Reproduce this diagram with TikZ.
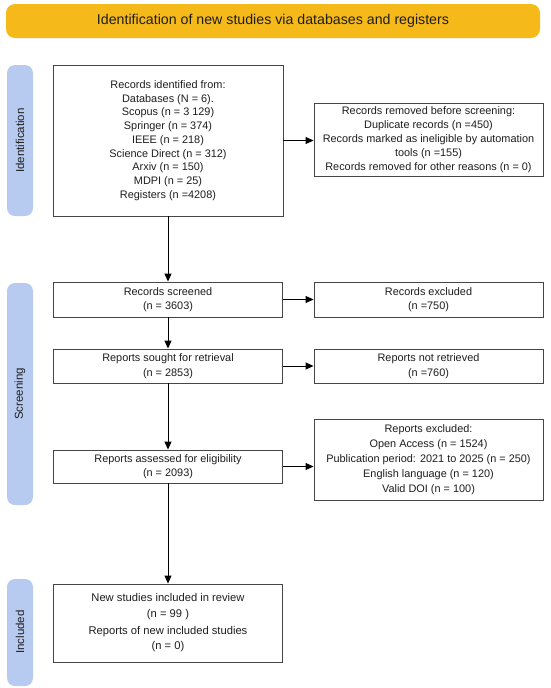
\documentclass[tikz,border=0pt]{standalone}
\usepackage{fontspec}
\setmainfont{Liberation Sans}
\usetikzlibrary{arrows.meta}
\definecolor{banner}{RGB}{246,185,26}
\definecolor{sidebar}{RGB}{183,203,240}
\definecolor{boxline}{RGB}{70,70,70}
\definecolor{txt}{RGB}{30,30,30}
\tikzset{
  box/.style={draw=boxline, line width=0.9pt, fill=white, rectangle, inner sep=0pt,
    align=center, text=txt, font=\fontsize{10.9}{14.5}\selectfont},
  sidebox/.style={fill=sidebar, rounded corners=8pt, draw=none},
  sidelabel/.style={rotate=90, text=txt, font=\fontsize{11.5}{13}\selectfont},
  flow/.style={line width=0.9pt, draw=black, -{Triangle[length=8pt,width=7pt]}}
}
\begin{document}
\begin{tikzpicture}[x=1pt,y=-1pt]
\useasboundingbox (0,0) rectangle (550,688);
% banner
\fill[banner, rounded corners=9pt] (6,4) rectangle (540,38);
\node[text=txt, font=\fontsize{14.2}{16}\selectfont] (title) at (273,21) {Identification of new studies via databases and registers};
% sidebars
\fill[sidebox] (7,65) rectangle (33,216);
\fill[sidebox] (7,283) rectangle (33,505);
\fill[sidebox] (7,579) rectangle (33,686);
\node[sidelabel] (lid) at (20,140.5) {Identification};
\node[sidelabel] (lsc) at (20,394) {Screening};
\node[sidelabel] (lin) at (20,632) {Included};
% boxes
\node[box, minimum width=230pt, minimum height=151pt, font=\fontsize{10.9}{13.75}\selectfont] (ident) at (168,140.5)
 {Records identified from:\\Databases (N = 6).\\Scopus (n = 3 129)\\Springer (n = 374)\\IEEE (n = 218)\\Science Direct (n = 312)\\Arxiv (n = 150)\\MDPI (n = 25)\\Registers (n =4208)};
\node[box, minimum width=229pt, minimum height=73pt, font=\fontsize{10.9}{14}\selectfont] (removed) at (428.5,140)
 {Records removed before screening:\\Duplicate records (n =450)\\Records marked as ineligible by automation\\tools (n =155)\\Records removed for other reasons (n = 0)};
\node[box, minimum width=229pt, minimum height=35pt] (screened) at (168,299.5)
 {Records screened\\(n = 3603)};
\node[box, minimum width=229pt, minimum height=35pt] (excluded) at (428.5,299.5)
 {Records excluded\\(n =750)};
\node[box, minimum width=229pt, minimum height=34pt] (sought) at (168,366)
 {Reports sought for retrieval\\(n = 2853)};
\node[box, minimum width=229pt, minimum height=34pt] (notret) at (428.5,366)
 {Reports not retrieved\\(n =760)};
\node[box, minimum width=229pt, minimum height=33pt] (assessed) at (168,466.5)
 {Reports assessed for eligibility\\(n = 2093)};
\node[box, minimum width=229pt, minimum height=81pt, font=\fontsize{10.9}{15}\selectfont] (repexcl) at (428.5,459.5)
 {Reports excluded:\\Open Access (n = 1524)\\Publication period: 2021 to 2025 (n = 250)\\English language (n = 120)\\Valid DOI (n = 100)};
\node[box, minimum width=229pt, minimum height=78pt, font=\fontsize{11.2}{15.5}\selectfont] (included) at (168,623)
 {New studies included in review\\(n = 99 )\\[1.5pt]Reports of new included studies\\(n = 0)};
% connectors
\draw[flow] (ident.south) -- (screened.north);
\draw[flow] (screened.south) -- (sought.north);
\draw[flow] (sought.south) -- (assessed.north);
\draw[flow] (assessed.south) -- (included.north);
\draw[flow] (ident.east) -- (ident.east -| removed.west);
\draw[flow] (screened.east) -- (excluded.west);
\draw[flow] (sought.east) -- (notret.west);
\draw[flow] (assessed.east) -- (assessed.east -| repexcl.west);
\end{tikzpicture}
\end{document}
